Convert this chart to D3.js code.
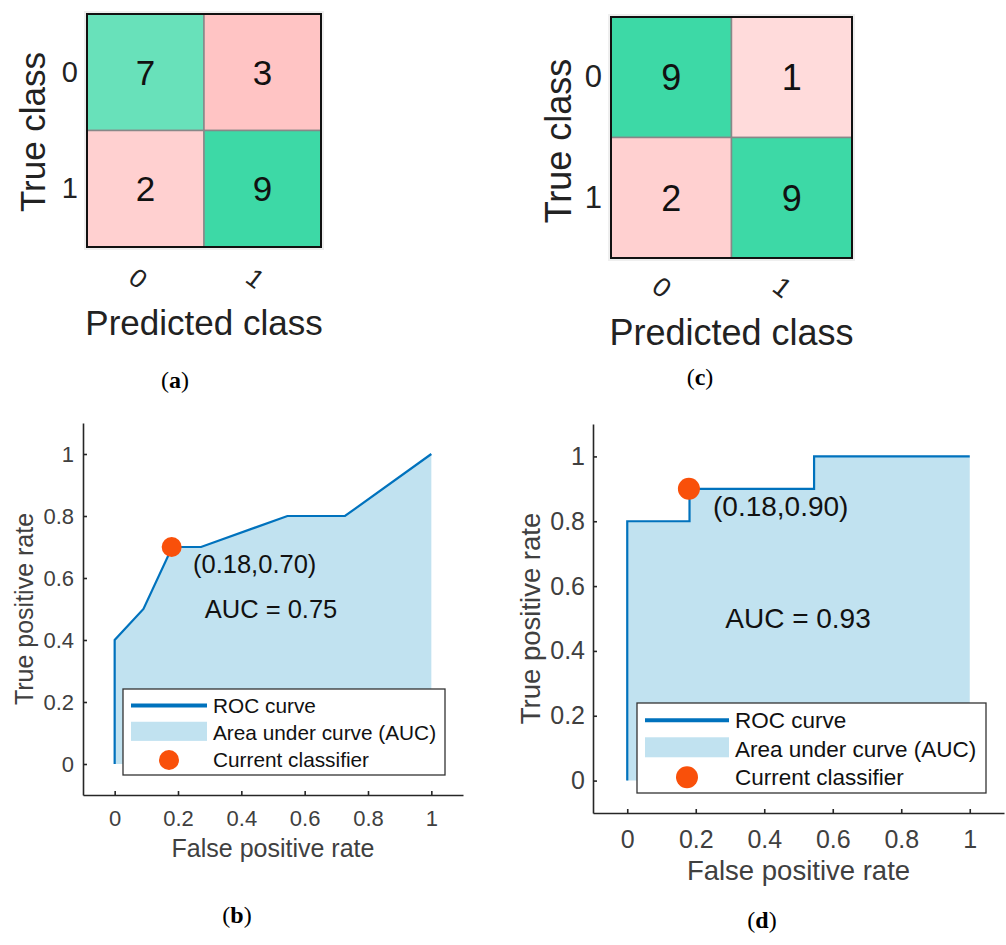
<html>
<head>
<meta charset="utf-8">
<title>Confusion matrices and ROC curves</title>
<script src="https://cdn.jsdelivr.net/npm/d3@7"></script>
<style>
  body { margin: 0; background: #fff; }
  text { font-family: "Liberation Sans", Arial, sans-serif; }
</style>
</head>
<body>
<script>
// ---- data ----
var classLabels = ["0", "1"]
var cmA = [[7, 3], [2, 9]]
var cmC = [[9, 1], [2, 9]]

var rateTicks = [0, 0.2, 0.4, 0.6, 0.8, 1]

var fprB = [0, 0, 0.0909, 0.1818, 0.2727, 0.5455, 0.7273, 1]
var tprB = [0, 0.4, 0.5, 0.7, 0.7, 0.8, 0.8, 1]
var pointB = [0.18, 0.70]
var aucB = 0.75

var fprD = [0, 0, 0.1818, 0.1818, 0.5455, 0.5455, 1]
var tprD = [0, 0.8, 0.8, 0.9, 0.9, 1, 1]
var pointD = [0.18, 0.90]
var aucD = 0.93

var legendItems = ["ROC curve", "Area under curve (AUC)", "Current classifier"]

var svg = d3.select("body").append("svg")
  .attr("width", 1006)
  .attr("height", 945)

var lineBlue = "#0072bd"
var areaBlue = "#c1e2f0"
var dotColor = "#f9500a"
var axisGray = "#404040"

var green = d3.scaleLinear().domain([0, 9]).range(["#ffffff", "#3dd9a6"])
var pink = d3.scaleLinear().domain([0, 3]).range(["#ffe7e7", "#ffc4c4"])

function drawMatrix(cm, o) {
  var g = svg.append("g")
  var x = d3.scaleBand().domain(classLabels).range([o.x0, o.x1])
  var y = d3.scaleBand().domain(classLabels).range([o.y0, o.y1])

  g.append("rect")
    .attr("x", o.x0 - 3).attr("y", o.y0 - 3)
    .attr("width", o.x1 - o.x0 + 6).attr("height", o.y1 - o.y0 + 6)
    .attr("fill", "#efefef")

  var cells = []
  cm.forEach(function(row, i) {
    row.forEach(function(v, j) { cells.push({r: classLabels[i], c: classLabels[j], v: v, diag: i == j}) })
  })

  g.selectAll("rect.cell").data(cells).enter().append("rect")
    .attr("class", "cell")
    .attr("x", d => x(d.c)).attr("y", d => y(d.r))
    .attr("width", x.bandwidth()).attr("height", y.bandwidth())
    .attr("fill", d => d.diag ? green(d.v) : pink(d.v))
    .attr("stroke", "#888").attr("stroke-width", 1.5)

  g.append("rect")
    .attr("x", o.x0).attr("y", o.y0)
    .attr("width", o.x1 - o.x0).attr("height", o.y1 - o.y0)
    .attr("fill", "none").attr("stroke", "#111").attr("stroke-width", 2)

  g.selectAll("text.num").data(cells).enter().append("text")
    .attr("class", "num")
    .attr("x", d => x(d.c) + x.bandwidth() / 2)
    .attr("y", d => y(d.r) + y.bandwidth() / 2)
    .attr("dy", "0.36em")
    .attr("text-anchor", "middle")
    .attr("font-size", o.numSize)
    .attr("fill", "#111")
    .text(d => d.v)

  // y tick labels
  var ya = g.append("g").attr("transform", "translate(" + o.x0 + ",0)")
    .call(d3.axisLeft(y).tickSize(0).tickPadding(9))
  ya.select(".domain").remove()
  ya.selectAll("text").attr("font-size", o.tickSize).attr("fill", "#222")
    .style("font-family", "Liberation Sans, Arial, sans-serif")

  // x tick labels, rotated
  g.selectAll("text.xt").data(classLabels).enter().append("text")
    .attr("class", "xt")
    .attr("transform", d => "translate(" + (x(d) + x.bandwidth() / 2 + o.xtShift) + "," + (o.y1 + o.xtDrop) + ") rotate(38)")
    .attr("text-anchor", "middle")
    .attr("dy", "0.36em")
    .attr("font-size", o.xtSize)
    .attr("fill", "#222")
    .text(d => d)

  g.append("text")
    .attr("x", (o.x0 + o.x1) / 2).attr("y", o.xlabY)
    .attr("text-anchor", "middle")
    .attr("font-size", o.labSize).attr("fill", "#222")
    .text("Predicted class")

  g.append("text")
    .attr("transform", "translate(" + o.ylabX + "," + o.ylabCy + ") rotate(-90)")
    .attr("text-anchor", "middle")
    .attr("font-size", o.labSize).attr("fill", "#222")
    .text("True class")
}

function drawRoc(fpr, tpr, pt, auc, o) {
  var g = svg.append("g")
  var x = d3.scaleLinear().domain([-0.1, 1.1]).range([o.left, o.right])
  var y = d3.scaleLinear().domain([-0.1, 1.1]).range([o.bottom, o.top])
  var pts = fpr.map((f, i) => [f, tpr[i]])

  g.append("path").datum(pts)
    .attr("d", d3.area().x(d => x(d[0])).y0(y(0)).y1(d => y(d[1])))
    .attr("fill", areaBlue)

  g.append("path").datum(pts)
    .attr("d", d3.line().x(d => x(d[0])).y(d => y(d[1])))
    .attr("fill", "none").attr("stroke", lineBlue).attr("stroke-width", 2.2)

  g.append("circle")
    .attr("cx", x(pt[0])).attr("cy", y(pt[1])).attr("r", o.dotR)
    .attr("fill", dotColor)

  g.append("text")
    .attr("x", o.ptLabX).attr("y", o.ptLabY)
    .attr("font-size", o.annSize).attr("fill", "#111")
    .text("(" + pt[0].toFixed(2) + "," + pt[1].toFixed(2) + ")")

  g.append("text")
    .attr("x", o.aucX).attr("y", o.aucY)
    .attr("text-anchor", "middle")
    .attr("font-size", o.annSize).attr("fill", "#111")
    .text("AUC = " + auc.toFixed(2))

  var xa = g.append("g").attr("transform", "translate(0," + o.bottom + ")")
    .call(d3.axisBottom(x).tickValues(rateTicks).tickFormat(d3.format("")).tickSize(-4).tickSizeOuter(0).tickPadding(o.xPad))
  var ya = g.append("g").attr("transform", "translate(" + o.left + ",0)")
    .call(d3.axisLeft(y).tickValues(rateTicks).tickFormat(d3.format("")).tickSize(-4).tickSizeOuter(0).tickPadding(o.yPad))
  ;[xa, ya].forEach(function(a) {
    a.select(".domain").attr("stroke", "#262626").attr("stroke-width", 1.6)
    a.selectAll(".tick line").attr("stroke", "#262626").attr("stroke-width", 1.6)
    a.selectAll("text").attr("font-size", o.tickSize).attr("fill", axisGray)
      .style("font-family", "Liberation Sans, Arial, sans-serif")
  })

  g.append("text")
    .attr("x", x(0.5)).attr("y", o.xlabY)
    .attr("text-anchor", "middle")
    .attr("font-size", o.labSize).attr("fill", axisGray)
    .text("False positive rate")

  g.append("text")
    .attr("transform", "translate(" + o.ylabX + "," + y(0.5) + ") rotate(-90)")
    .attr("text-anchor", "middle")
    .attr("font-size", o.labSize).attr("fill", axisGray)
    .text("True positive rate")

  // legend
  var L = o.legend
  var lg = g.append("g")
  lg.append("rect")
    .attr("x", L.x).attr("y", L.y).attr("width", L.w).attr("height", L.h)
    .attr("fill", "#fff").attr("stroke", "#333").attr("stroke-width", 1.3)
  var row = L.h / 3.15
  lg.append("line")
    .attr("x1", L.x + 8).attr("x2", L.sw).attr("y1", L.y + row * 0.6).attr("y2", L.y + row * 0.6)
    .attr("stroke", lineBlue).attr("stroke-width", 4)
  lg.append("rect")
    .attr("x", L.x + 8).attr("y", L.y + row * 1.2).attr("width", L.sw - L.x - 8).attr("height", row * 0.7)
    .attr("fill", areaBlue)
  lg.append("circle")
    .attr("cx", (L.x + 8 + L.sw) / 2).attr("cy", L.y + row * 2.6).attr("r", o.dotR)
    .attr("fill", dotColor)
  lg.selectAll("text").data(legendItems).enter().append("text")
    .attr("x", L.sw + 6)
    .attr("y", (d, i) => L.y + row * (0.6 + i) )
    .attr("dy", "0.36em")
    .attr("font-size", L.font).attr("fill", "#111")
    .text(d => d)
}

function caption(letter, cx, by) {
  var t = svg.append("text")
    .attr("x", cx).attr("y", by)
    .attr("text-anchor", "middle")
    .attr("font-size", 24)
    .style("font-family", "Liberation Serif, Times New Roman, serif")
  t.append("tspan").text("(")
  t.append("tspan").attr("font-weight", "bold").text(letter)
  t.append("tspan").text(")")
}

drawMatrix(cmA, {x0: 87, x1: 321, y0: 14, y1: 247, numSize: 35, tickSize: 29, xtSize: 26,
  xtShift: -7, xtDrop: 31, labSize: 35, xlabY: 335, ylabX: 45, ylabCy: 132})
drawMatrix(cmC, {x0: 611, x1: 852, y0: 17, y1: 258, numSize: 36, tickSize: 31, xtSize: 27,
  xtShift: -9, xtDrop: 29, labSize: 36, xlabY: 345, ylabX: 571, ylabCy: 141})

drawRoc(fprB, tprB, pointB, aucB, {left: 83, right: 463, top: 423, bottom: 795,
  dotR: 10, annSize: 25.5, ptLabX: 193, ptLabY: 573, aucX: 271, aucY: 618,
  tickSize: 22, xPad: 15, yPad: 9, labSize: 25, xlabY: 857, ylabX: 33,
  legend: {x: 123, y: 689, w: 322, h: 86, sw: 207, font: 20.8}})

drawRoc(fprD, tprD, pointD, aucD, {left: 593, right: 1004, top: 424, bottom: 813,
  dotR: 11, annSize: 28, ptLabX: 713, ptLabY: 516, aucX: 798, aucY: 628,
  tickSize: 25, xPad: 17, yPad: 8, labSize: 27.5, xlabY: 880, ylabX: 540,
  legend: {x: 637, y: 703, w: 349, h: 90, sw: 729, font: 22.5}})

caption("a", 175, 388)
caption("c", 700, 385)
caption("b", 237, 923)
caption("d", 762, 928)
</script>
</body>
</html>
